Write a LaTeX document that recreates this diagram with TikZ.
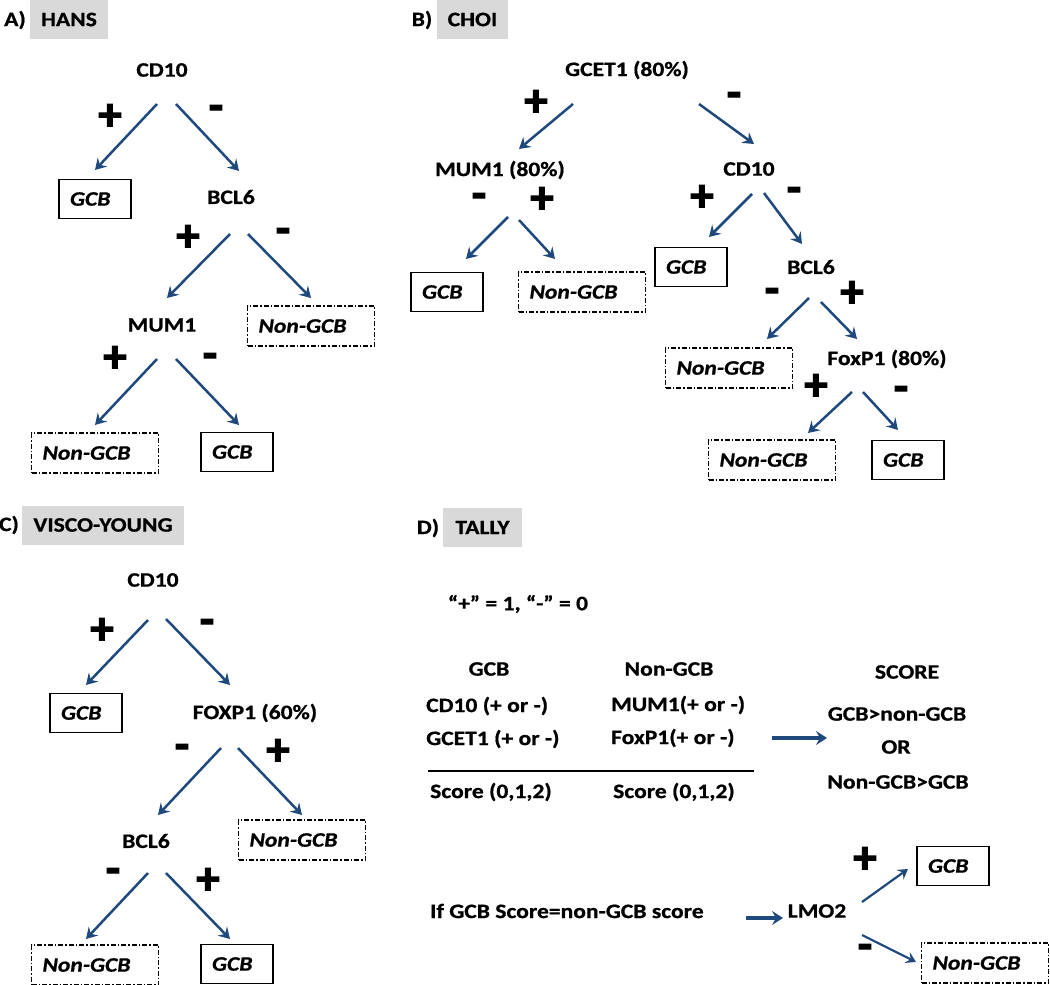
\documentclass[tikz,border=0pt]{standalone}
\usepackage{fontspec}
\setmainfont{Carlito}[FakeStretch=1.15,BoldFeatures={FakeBold=0.8},BoldItalicFeatures={FakeBold=0.8}]
\newfontfamily\signfont{Carlito}[BoldFeatures={FakeBold=3}]
\usetikzlibrary{arrows.meta,calc}
\definecolor{arrowblue}{RGB}{31,73,125}
\definecolor{hdrgray}{RGB}{217,217,217}
\newcommand\conn[5][arr]{\draw[#1] ($(#2)+(#3)$) -- ($(#4)+(#5)$);}
\begin{document}
\begin{tikzpicture}[x=1pt,y=-1pt,
  font=\bfseries\fontsize{20.5}{24}\selectfont,
  lbl/.style={inner sep=0pt},
  lblw/.style={inner sep=0pt,anchor=west},
  hdr/.style={fill=hdrgray,inner sep=0pt,minimum height=39pt},
  sbox/.style={draw=black,line width=1.2pt,minimum height=39pt,text width=50pt,
    inner xsep=11pt,inner ysep=0pt,align=left,
    font=\bfseries\itshape\fontsize{20.5}{24}\selectfont},
  dbox/.style={sbox,minimum height=40pt,text width=105pt,
    dash pattern=on 5pt off 2pt on 1.5pt off 2pt},
  sign/.style={inner sep=0pt,font=\signfont\bfseries\fontsize{46}{46}\selectfont},
  arr/.style={draw=arrowblue,line width=2.5pt,-{Stealth[length=11pt,width=13pt,inset=4pt]}},
  thinarr/.style={draw=arrowblue,line width=2.2pt,-{Stealth[length=10pt,width=12pt,inset=4pt]}},
  harr/.style={draw=arrowblue,line width=3.6pt,-{Stealth[length=11pt,width=14pt,inset=4pt]}}]
\useasboundingbox (0,0) rectangle (1050,985);

% ---------------- Panel A : HANS
\node[lbl] (labA) at (15,20) {A)};
\node[hdr,minimum width=78pt] (hA) at (69,19.5) {HANS};
\node[lbl] (cd10a) at (162,70) {CD10};
\node[sbox] (gcbA1) at (95,199) {GCB};
\node[lbl] (bcl6a) at (231,197) {BCL6};
\node[lbl] (mum1a) at (162,325) {MUM1};
\node[dbox] (ngA1) at (311,326) {Non-GCB};
\node[dbox] (ngA2) at (95,453) {Non-GCB};
\node[sbox] (gcbA2) at (237,452) {GCB};
\node[sign] (sA1) at (110,117) {+};
\node[sign] (sA2) at (216,113) {-};
\node[sign] (sA3) at (188,238) {+};
\node[sign] (sA4) at (283,236) {-};
\node[sign] (sA5) at (115,359) {+};
\node[sign] (sA6) at (210,361) {-};
\conn{cd10a}{-5,34}{gcbA1}{0,-29}
\conn{cd10a}{14,34}{bcl6a}{8,-26}
\conn{bcl6a}{-1,37}{mum1a}{5,-27}
\conn{bcl6a}{17,37}{ngA1}{0,-28}
\conn{mum1a}{-5,34}{ngA2}{0,-28}
\conn{mum1a}{14,34}{gcbA2}{2,-27}

% ---------------- Panel B : CHOI
\node[lbl] (labB) at (422,20) {B)};
\node[hdr,minimum width=71pt] (hB) at (472.5,19.5) {CHOI};
\node[lbl] (gcet1) at (627,70) {GCET1 (80\%)};
\node[lbl] (mum1b) at (500,170) {MUM1 (80\%)};
\node[lbl] (cd10b) at (749,169) {CD10};
\node[sbox] (gcbB1) at (447,292) {GCB};
\node[dbox] (ngB1) at (582,292) {Non-GCB};
\node[sbox] (gcbB2) at (691,267) {GCB};
\node[lbl] (bcl6b) at (811,267) {BCL6};
\node[dbox] (ngB2) at (729,368) {Non-GCB};
\node[lbl] (foxp1b) at (887,359) {FoxP1 (80\%)};
\node[dbox] (ngB3) at (772,460) {Non-GCB};
\node[sbox] (gcbB3) at (908,460) {GCB};
\node[sign] (sB1) at (536,103) {+};
\node[sign] (sB2) at (734,100) {-};
\node[sign] (sB3) at (479,201) {-};
\node[sign] (sB4) at (542,200) {+};
\node[sign] (sB5) at (702,198) {+};
\node[sign] (sB6) at (794,195) {-};
\node[sign] (sB7) at (772,296) {-};
\node[sign] (sB8) at (852,294) {+};
\node[sign] (sB9) at (816,387) {+};
\node[sign] (sB10) at (901,394) {-};
\conn{gcet1}{-54,34}{mum1b}{19,-21}
\conn{gcet1}{72,34}{cd10b}{5,-25}
\conn{mum1b}{8,47}{gcbB1}{19,-33}
\conn{mum1b}{19,50}{ngB1}{-27,-33}
\conn{cd10b}{3,25}{gcbB2}{18,-30}
\conn{cd10b}{15,24}{bcl6b}{-9,-23}
\conn{bcl6b}{-2,31}{ngB2}{38,-29}
\conn{bcl6b}{10,35}{foxp1b}{-30,-20}
\conn{foxp1b}{-35,33}{ngB3}{36,-27}
\conn{foxp1b}{-24,33}{gcbB3}{-10,-30}

% ---------------- Panel C : VISCO-YOUNG
\node[lbl] (labC) at (9,525) {C)};
\node[hdr,minimum width=162pt] (hC) at (103,525) {VISCO-YOUNG};
\node[lbl] (cd10c) at (153,580) {CD10};
\node[sbox] (gcbC1) at (86,713) {GCB};
\node[lbl] (foxp1c) at (255,713) {FOXP1 (60\%)};
\node[lbl] (bcl6c) at (146,841) {BCL6};
\node[dbox] (ngC1) at (302,840) {Non-GCB};
\node[dbox] (ngC2) at (95,965) {Non-GCB};
\node[sbox] (gcbC2) at (237,964) {GCB};
\node[sign] (sC1) at (102,631) {+};
\node[sign] (sC2) at (207,627) {-};
\node[sign] (sC3) at (182,752) {-};
\node[sign] (sC4) at (278,752) {+};
\node[sign] (sC5) at (113,876) {-};
\node[sign] (sC6) at (208,881) {+};
\conn{cd10c}{-5,40}{gcbC1}{0,-28}
\conn{cd10c}{13,39}{foxp1c}{-25,-28}
\conn{foxp1c}{-34,35}{bcl6c}{12,-26}
\conn{foxp1c}{-17,35}{ngC1}{0,-25}
\conn{bcl6c}{2,32}{ngC2}{-9,-26}
\conn{bcl6c}{20,32}{gcbC2}{-7,-25}

% ---------------- Panel D : TALLY
\node[lbl] (labD) at (428,528) {D)};
\node[hdr,minimum width=79pt] (hD) at (482.5,527.5) {TALLY};
\node[lbl] (eq) at (518,604) {“+” = 1, “-” = 0};
\node[lbl] (gcbH) at (489,669) {GCB};
\node[lbl] (ngH) at (669,669) {Non-GCB};
\node[lblw] (cd10d) at (426,706) {CD10 (+ or -)};
\node[lblw] (mum1d) at (611,705) {MUM1(+ or -)};
\node[lblw] (gcet1d) at (426,739) {GCET1 (+ or -)};
\node[lblw] (foxp1d) at (611,738) {FoxP1(+ or -)};
\draw[line width=1.5pt] (428,771) -- (754,771);
\node[lblw] (sc1) at (430,792) {Score (0,1,2)};
\node[lblw] (sc2) at (613,792) {Score (0,1,2)};
\node[lbl] (scoreH) at (907,672) {SCORE};
\node[lbl] (gcbgt) at (897,714) {GCB>non-GCB};
\node[lbl] (orN) at (896,747) {OR};
\node[lbl] (nggt) at (898,782) {Non-GCB>GCB};
\conn[harr]{foxp1d.west}{161,0}{gcbgt}{-70,24}
\node[lblw] (ifn) at (430,911) {If GCB Score=non-GCB score};
\node[lbl] (lmo2) at (817,911) {LMO2};
\conn[harr]{ifn.west}{316,7}{lmo2}{-34,7}
\node[sign] (sD1) at (865,860) {+};
\node[sign] (sD2) at (865,952) {-};
\node[sbox] (gcbD) at (953,866) {GCB};
\node[dbox] (ngD) at (985,963) {Non-GCB};
\conn[thinarr]{lmo2}{45,-9}{gcbD}{-45,3}
\conn[thinarr]{lmo2}{45,24}{ngD}{-69,-1}
\end{tikzpicture}
\end{document}
